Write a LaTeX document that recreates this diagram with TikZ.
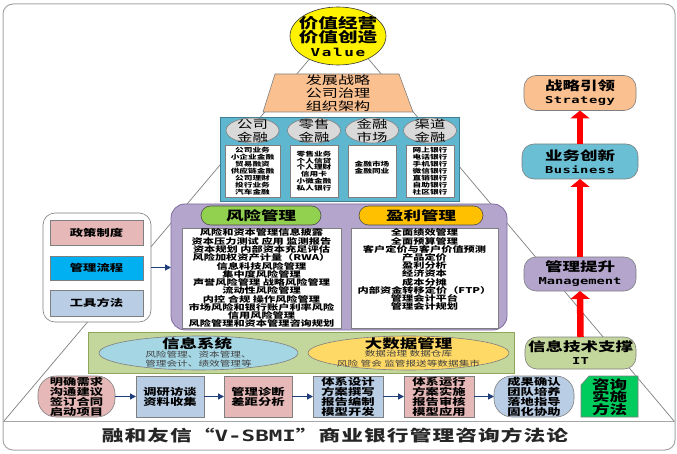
\documentclass[tikz,border=0pt]{standalone}
\usepackage{fontspec}
\setmainfont{Noto Sans CJK SC}[FakeStretch=1.4]
\newfontfamily\monof{DejaVu Sans Mono}[FakeStretch=1.45]
\usetikzlibrary{shapes.geometric,arrows.meta}
\definecolor{gbord}{HTML}{7F7F7F}
\definecolor{framec}{HTML}{A6A6A6}
\definecolor{peach}{HTML}{FAC090}
\definecolor{bizblue}{HTML}{5FB7CF}
\definecolor{bizbord}{HTML}{3F7F93}
\definecolor{lgray}{HTML}{D9D9D9}
\definecolor{lav}{HTML}{B4A5CC}
\definecolor{lavbord}{HTML}{7E6A9E}
\definecolor{pillg}{HTML}{92D050}
\definecolor{pillo}{HTML}{FFC000}
\definecolor{pinkc}{HTML}{E6B9B8}
\definecolor{cyanc}{HTML}{00B0F0}
\definecolor{steel}{HTML}{B9CDE5}
\definecolor{oliveg}{HTML}{C3D69B}
\definecolor{olivebord}{HTML}{8EA65A}
\definecolor{skyb}{HTML}{A5D6E4}
\definecolor{goldy}{HTML}{FFD966}
\definecolor{mgreen}{HTML}{00CC5E}
\definecolor{busb}{HTML}{6BBFD5}
\definecolor{navy}{HTML}{1F3D7A}
\definecolor{redc}{HTML}{FF0000}
\definecolor{titlec}{HTML}{262626}
\definecolor{subc}{HTML}{404040}
\newcommand\fz[2]{\fontsize{#1pt}{#2pt}\selectfont}
\begin{document}
\begin{tikzpicture}[x=1pt,y=-1pt,
  every node/.style={inner sep=0pt, outer sep=0pt},
  bx/.style={draw=gbord, line width=0.6pt},
  tx/.style={align=center, text=black},
  nav/.style={draw=navy, line width=1.4pt, -{Triangle[width=6pt,length=6pt]}},
  redar/.style={draw=redc, line width=6.5pt, -{Triangle[width=19pt,length=8pt]}},
  pyr/.style={draw=gbord, line width=0.7pt},
  rcol/.style={bx, rounded corners=12pt, minimum width=112pt, minimum height=35pt},
  biz/.style={tx, font=\fz{6.2}{6.9}\bfseries},
  bot/.style={tx, font=\fz{9.5}{9.8}\bfseries},
  rtx/.style={tx, font=\fz{12.5}{13}\bfseries},
]
\useasboundingbox (0,0) rectangle (677,454);
% frame
\draw[draw=framec, line width=1pt, rounded corners=10pt] (3,4) rectangle (675,450);
\coordinate (sepl) at (3,421);
\coordinate (sepr) at (675,421);
\draw[draw=framec, line width=1pt] (sepl) -- (sepr);
% pyramid lines
\coordinate (apex) at (339,24);
\coordinate (bl) at (4,421);
\coordinate (br) at (674,421);
\draw[pyr] (bl) -- (apex) -- (br);

% value ellipse
\node[ellipse, draw=black!80, line width=0.6pt, fill=yellow, minimum width=96pt, minimum height=58pt] (val) at (338,36) {};
\node[tx, font=\fz{14}{14}\bfseries] (valt) at (338,36.5) {价值经营\\价值创造\\{\monof\bfseries\fz{11}{14}\addfontfeature{LetterSpace=15}Value}};

% trapezoid
\coordinate (t1) at (275,74);
\coordinate (t2) at (399,74);
\coordinate (t3) at (413,112);
\coordinate (t4) at (263,112);
\draw[bx, fill=peach] (t1) -- (t2) -- (t3) -- (t4) -- cycle;
\node[tx, font=\fz{11.5}{13}] (trap) at (338,93) {发展战略\\公司治理\\组织架构};

% business box
\node[draw=bizbord, line width=0.7pt, fill=bizblue, minimum width=239pt, minimum height=84pt] (bizbox) at (339.5,159) {};
\foreach \n/\x/\w/\a/\b in {1/252.5/55/公司/金融, 2/314/48/零售/金融, 3/372/48/金融/市场, 4/430/48/渠道/金融}{
  \node[ellipse, bx, fill=lgray, minimum width=53pt, minimum height=25pt] (be\n) at (\x,130.5) {};
  \node[tx, font=\fz{11}{12.5}] (bet\n) at (\x,131) {\a\\\b};
  \node[bx, fill=white, minimum width=\w pt, minimum height=52pt] (bw\n) at (\x,171) {};
}
\node[biz] (bl1) at (252.5,171) {公司业务\\小企业金融\\贸易融资\\供应链金融\\公司理财\\投行业务\\汽车金融};
\node[biz] (bl2) at (314,171) {零售业务\\个人信贷\\个人理财\\信用卡\\小微金融\\私人银行};
\node[biz] (bl3) at (372,168) {金融市场\\金融同业};
\node[biz] (bl4) at (430,171) {网上银行\\电话银行\\手机银行\\微信银行\\直销银行\\自助银行\\社区银行};

% purple box
\node[draw=lavbord, line width=0.8pt, fill=lav, rounded corners=14pt, minimum width=336pt, minimum height=126pt] (pur) at (339,267) {};
\node[draw=black!70, line width=0.6pt, fill=pillg, rounded corners=9.5pt, minimum width=120pt, minimum height=19pt, font=\fz{12.5}{12}\bfseries] (risk) at (261,215.5) {风险管理};
\node[draw=black!70, line width=0.6pt, fill=pillo, rounded corners=9.5pt, minimum width=124pt, minimum height=19pt, font=\fz{12.5}{12}\bfseries] (prof) at (421,215.5) {盈利管理};
\node[bx, fill=white, minimum width=159pt, minimum height=100pt] (rbox) at (261.5,278) {};
\node[bx, fill=white, minimum width=147pt, minimum height=100pt] (pbox) at (424.5,278) {};
\node[tx, font=\fz{8}{8.27}\bfseries, anchor=north] (rlist) at (261.5,229) {风险和资本管理信息披露\\资本压力测试\ 应用\ 监测报告\\资本规划\ 内部资本充足评估\\风险加权资产计量（RWA）\\信息科技风险管理\\集中度风险管理\\声誉风险管理\ 战略风险管理\\流动性风险管理\\内控\ 合规\ 操作风险管理\\市场风险和银行账户利率风险\\信用风险管理\\风险管理和资本管理咨询规划};
\node[tx, font=\fz{8}{8.2}\bfseries, anchor=north] (plist) at (424.5,229) {全面绩效管理\\全面预算管理\\客户定价与客户价值预测\\产品定价\\盈利分析\\经济资本\\成本分摊\\内部资金转移定价（FTP）\\管理会计平台\\管理会计规划};

% left panel
\node[bx, fill=white, rounded corners=12pt, minimum width=108pt, minimum height=109pt] (lp) at (97,267.5) {};
\node[bx, fill=pinkc, minimum width=93pt, minimum height=25pt, font=\fz{9.5}{10}\bfseries] (pol) at (96.5,232.5) {政策制度};
\node[bx, fill=cyanc, minimum width=93pt, minimum height=24pt, font=\fz{9.5}{10}\bfseries] (proc) at (96.5,268) {管理流程};
\node[bx, fill=steel, minimum width=93pt, minimum height=26pt, font=\fz{9.5}{10}\bfseries] (tool) at (96.5,303) {工具方法};
\draw[nav] (lp.east) -- (lp.east -| pur.west);

% green band
\node[draw=olivebord, line width=0.8pt, fill=oliveg, minimum width=426pt, minimum height=41pt] (band) at (301,352.5) {};
\node[ellipse, draw=gbord, line width=0.6pt, fill=skyb, minimum width=199pt, minimum height=34pt] (isys) at (198.5,353) {};
\node[ellipse, draw=gbord, line width=0.6pt, fill=goldy, minimum width=201pt, minimum height=34pt] (bigd) at (408.5,353) {};
\node[tx, font=\fz{12.5}{12.5}\bfseries] (isyst) at (197,344) {信息系统};
\node[tx, text=subc, font=\fz{7.6}{8.8}] (isyss) at (198.5,359) {风险管理、资本管理、\\管理会计、绩效管理等};
\node[tx, font=\fz{12.5}{12.5}\bfseries] (bigdt) at (408.5,343.5) {大数据管理};
\node[tx, text=subc, font=\fz{7.6}{9.8}] (bigds) at (408.5,358.5) {数据治理\ 数据仓库\\风险\ 管会\ 监管报送等数据集市};

% bottom row
\node[bx, fill=pinkc, rounded corners=18pt, minimum width=77pt, minimum height=41pt] (b1) at (76.5,396.5) {};
\node[bot] (b1t) at (76.5,397) {明确需求\\沟通建议\\签订合同\\启动项目};
\node[bx, fill=steel, minimum width=68pt, minimum height=41pt] (b2) at (170,396.5) {};
\node[bot] (b2t) at (170,396.5) {调研访谈\\资料收集};
\node[bx, fill=pinkc, minimum width=68pt, minimum height=41pt] (b3) at (258,396.5) {};
\node[bot] (b3t) at (258,396.5) {管理诊断\\差距分析};
\node[bx, fill=steel, minimum width=70pt, minimum height=41pt] (b4) at (348,396.5) {};
\node[bot] (b4t) at (348,397) {体系设计\\方案撰写\\报告编制\\模型开发};
\node[bx, fill=pinkc, minimum width=70pt, minimum height=41pt] (b5) at (439,396.5) {};
\node[bot] (b5t) at (439,397) {体系运行\\方案实施\\报告审核\\模型应用};
\node[bx, fill=steel, rounded corners=18pt, minimum width=80pt, minimum height=41pt] (b6) at (534,396.5) {};
\node[bot] (b6t) at (534,397) {成果确认\\团队培养\\落地指导\\固化协助};
\coordinate (g1) at (581,385);
\coordinate (g2) at (589,376);
\coordinate (g3) at (638,376);
\coordinate (g4) at (638,417);
\coordinate (g5) at (581,417);
\draw[bx, fill=mgreen] (g1) -- (g2) -- (g3) -- (g4) -- (g5) -- cycle;
\node[tx, font=\fz{12.5}{12.5}\bfseries] (b7) at (609.5,397) {咨询\\实施\\方法};
\draw[nav] (b1.east) -- (b2.west);
\draw[nav] (b2.east) -- (b3.west);
\draw[nav] (b3.east) -- (b4.west);
\draw[nav] (b4.east) -- (b5.west);
\draw[nav] (b5.east) -- (b6.west);

% right column
\node[rcol, fill=peach] (str) at (580,93) {};
\node[rtx] (strt) at (580,93) {战略引领\\{\monof\bfseries\fz{9.5}{13}\addfontfeature{LetterSpace=5}Strategy}};
\node[rcol, fill=busb, minimum width=116pt] (bus) at (580,161.5) {};
\node[rtx] (bust) at (580,161.5) {业务创新\\{\monof\bfseries\fz{9.5}{13}\addfontfeature{LetterSpace=5}Business}};
\node[rcol, fill=lav, minimum height=34pt] (mgt) at (580,274) {};
\node[rtx] (mgtt) at (580,273.5) {管理提升\\{\monof\bfseries\fz{9.5}{13}Management}};
\node[rcol, fill=oliveg, minimum width=111pt, minimum height=32pt] (itb) at (580.5,353) {};
\node[rtx] (itt) at (580.5,352.5) {信息技术支撑\\{\monof\bfseries\fz{9.5}{13}IT}};
\draw[redar] (bus.north) -- (str.south);
\draw[redar] (mgt.north) -- (bus.south);
\draw[redar] (itb.north) -- (mgt.south);

% title
\node[text=titlec, font=\fz{15.5}{16}\bfseries\addfontfeature{LetterSpace=7}] (title) at (335,436) {融和友信“{\monof V-SBMI}”商业银行管理咨询方法论};
\end{tikzpicture}
\end{document}
